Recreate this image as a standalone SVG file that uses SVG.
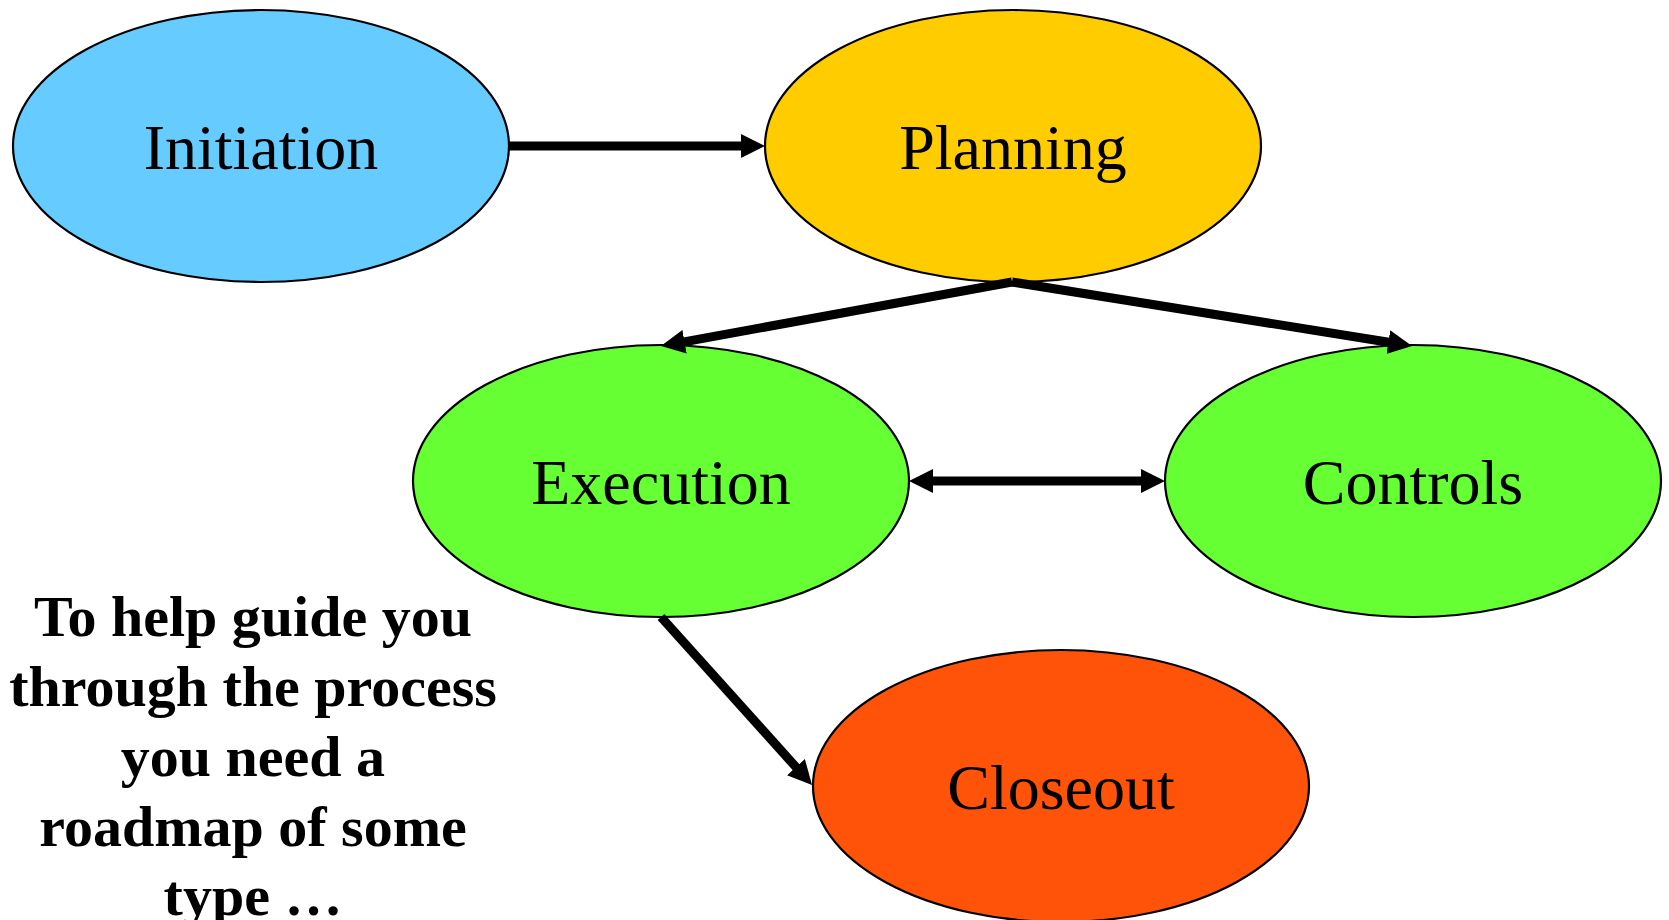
<svg xmlns="http://www.w3.org/2000/svg" width="1669" height="920" viewBox="0 0 1669 920">
<style>
.node ellipse{stroke:#000;stroke-width:2.2}
.lbl{font-family:"Liberation Serif","Times New Roman",serif;font-size:64px;fill:#000;text-anchor:middle}
.note{font-family:"Liberation Serif","Times New Roman",serif;font-size:58px;font-weight:bold;fill:#000;text-anchor:middle}
.conn line{stroke:#000;stroke-width:9;fill:none}
</style>
<defs>
<marker id="ah" markerUnits="userSpaceOnUse" viewBox="0 0 24 24" markerWidth="24" markerHeight="24" refX="2" refY="12" orient="auto-start-reverse">
<path d="M0,0 L24,12 L0,24 z" fill="#000"/>
</marker>
</defs>
<rect width="1669" height="920" fill="#fff"/>
<g id="initiation" class="node">
<ellipse cx="261" cy="146" rx="248" ry="136" fill="#66CCFF"/>
<text class="lbl" x="261" y="169">Initiation</text>
</g>
<g id="planning" class="node">
<ellipse cx="1013" cy="146" rx="248" ry="136" fill="#FFCC00"/>
<text class="lbl" x="1013" y="169">Planning</text>
</g>
<g id="execution" class="node">
<ellipse cx="661" cy="481" rx="248" ry="136" fill="#66FF33"/>
<text class="lbl" x="661" y="504">Execution</text>
</g>
<g id="controls" class="node">
<ellipse cx="1413" cy="481" rx="248" ry="136" fill="#66FF33"/>
<text class="lbl" x="1413" y="504">Controls</text>
</g>
<g id="closeout" class="node">
<ellipse cx="1061" cy="786" rx="248" ry="136" fill="#FF5309"/>
<text class="lbl" x="1061" y="809">Closeout</text>
</g>
<g id="note">
<text class="note" x="253" y="636">To help guide you</text>
<text class="note" x="253" y="706">through the process</text>
<text class="note" x="253" y="776">you need a</text>
<text class="note" x="253" y="846">roadmap of some</text>
<text class="note" x="253" y="915">type …</text>
</g>
<g id="connectors" class="conn">
<line x1="509" y1="146" x2="743" y2="146" marker-end="url(#ah)"/>
<line x1="1012" y1="282" x2="682.6" y2="342.1" marker-end="url(#ah)"/>
<line x1="1012" y1="282" x2="1390.3" y2="342.5" marker-end="url(#ah)"/>
<line x1="931" y1="481" x2="1143" y2="481" marker-start="url(#ah)" marker-end="url(#ah)"/>
<line x1="661" y1="617" x2="797.3" y2="768.6" marker-end="url(#ah)"/>
</g>
</svg>
